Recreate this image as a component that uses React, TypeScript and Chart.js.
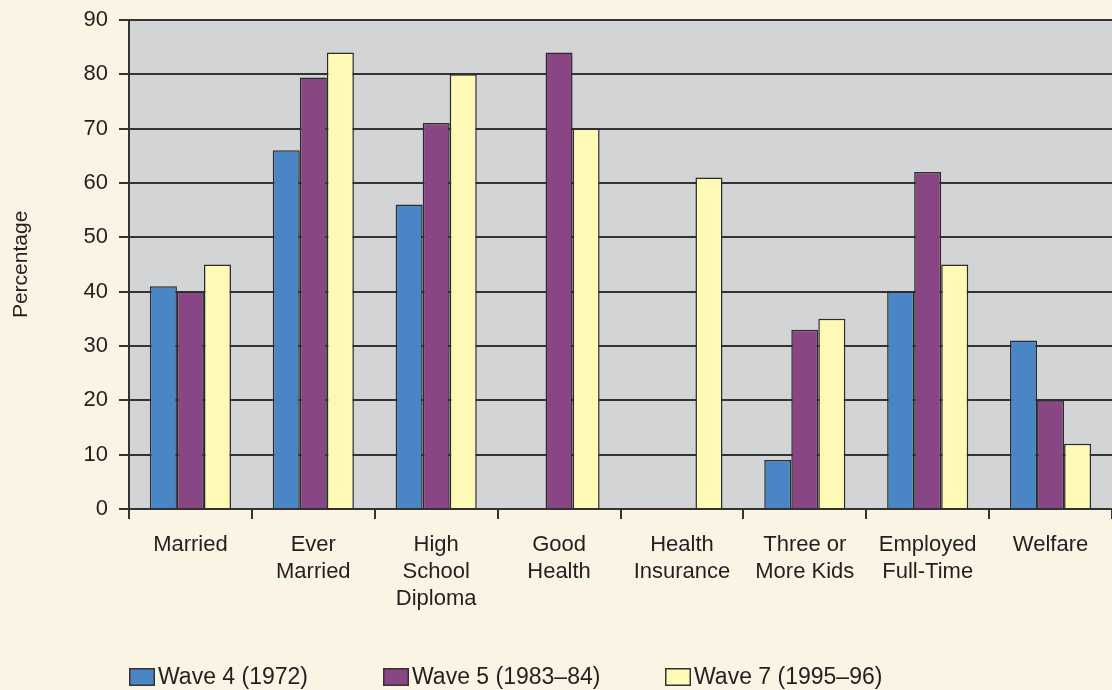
import React, { useEffect, useRef } from "react";
import { Chart, registerables } from "chart.js";

Chart.register(...registerables);

const categories: string[][] = [
  ["Married"],
  ["Ever", "Married"],
  ["High", "School", "Diploma"],
  ["Good", "Health"],
  ["Health", "Insurance"],
  ["Three or", "More Kids"],
  ["Employed", "Full-Time"],
  ["Welfare"],
];

const wave4: (number | null)[] = [41, 66, 56, null, null, 9, 40, 31];
const wave5: (number | null)[] = [40, 79.4, 71, 84, null, 33, 62, 20];
const wave7: (number | null)[] = [45, 84, 80, 70, 61, 35, 45, 12];

const seriesLabels = ["Wave 4 (1972)", "Wave 5 (1983\u201384)", "Wave 7 (1995\u201396)"];
const yTicks = [0, 10, 20, 30, 40, 50, 60, 70, 80, 90];

const COLORS = ["#4A86C5", "#884684", "#FFF9B6"];
const TEXT = "#231F20";
const LINE = "#333333";
const FONT = "'Liberation Sans', Arial, Helvetica, sans-serif";

const bgPlugin = {
  id: "bgPlugin",
  beforeDraw(chart: any) {
    const { ctx, chartArea } = chart;
    ctx.save();
    ctx.fillStyle = "#FBF3E4";
    ctx.fillRect(0, 0, chart.width, chart.height);
    ctx.fillStyle = "#D3D4D6";
    ctx.fillRect(chartArea.left, chartArea.top, chartArea.right - chartArea.left, chartArea.bottom - chartArea.top);
    ctx.restore();
  },
};

const legendPlugin = {
  id: "customLegend",
  afterDraw(chart: any) {
    const { ctx, chartArea } = chart;
    const offsets = [0, 254, 536];
    const y = 668;
    ctx.save();
    ctx.font = `23px ${FONT}`;
    ctx.textBaseline = "middle";
    ctx.textAlign = "left";
    chart.data.datasets.forEach((ds: any, i: number) => {
      const x = chartArea.left + offsets[i];
      ctx.fillStyle = ds.backgroundColor;
      ctx.fillRect(x, y, 26, 18);
      ctx.strokeStyle = LINE;
      ctx.lineWidth = 1.5;
      ctx.strokeRect(x + 0.75, y + 0.75, 24.5, 16.5);
      ctx.fillStyle = TEXT;
      ctx.fillText(ds.label, x + 29, y + 10);
    });
    ctx.restore();
  },
};

export default function App() {
  const ref = useRef<HTMLCanvasElement | null>(null);
  useEffect(() => {
    if (!ref.current) return;
    const mk = (label: string, data: (number | null)[], color: string) => ({
      label,
      data,
      backgroundColor: color,
      borderColor: "#2B2B2B",
      borderWidth: 1.5,
      categoryPercentage: 0.66,
      barPercentage: 1.0,
    });
    const chart = new Chart(ref.current, {
      type: "bar",
      data: {
        labels: categories as any,
        datasets: [
          mk(seriesLabels[0], wave4, COLORS[0]),
          mk(seriesLabels[1], wave5, COLORS[1]),
          mk(seriesLabels[2], wave7, COLORS[2]),
        ],
      },
      options: {
        animation: false,
        responsive: false,
        maintainAspectRatio: false,
        layout: { padding: { top: 19, right: 0, left: 0, bottom: 0 } },
        plugins: {
          legend: { display: false },
          tooltip: { enabled: false },
        },
        scales: {
          x: {
            afterFit(scale: any) {
              scale.height = 181;
            },
            grid: {
              offset: true,
              drawOnChartArea: false,
              drawTicks: true,
              tickLength: 10,
              color: LINE,
              lineWidth: 2,
            },
            border: { display: true, color: LINE, width: 2 },
            ticks: {
              color: TEXT,
              font: { family: FONT, size: 22, lineHeight: 1.23 },
              padding: 12,
              maxRotation: 0,
              autoSkip: false,
            },
          },
          y: {
            min: 0,
            max: 90,
            afterFit(scale: any) {
              scale.width = 129;
            },
            afterBuildTicks(scale: any) {
              scale.ticks = yTicks.map((v) => ({ value: v }));
            },
            grid: {
              color: LINE,
              lineWidth: 2,
              tickLength: 10,
              drawTicks: true,
            },
            border: { display: true, color: LINE, width: 2 },
            ticks: {
              color: TEXT,
              font: { family: FONT, size: 22, lineHeight: 0.8 },
              padding: 11,
            },
            title: {
              display: true,
              text: "Percentage",
              color: TEXT,
              font: { family: FONT, size: 21 },
              padding: { top: 9, bottom: 0 },
            },
          },
        },
      },
      plugins: [bgPlugin, legendPlugin],
    });
    return () => chart.destroy();
  }, []);
  return (
    <div style={{ position: "fixed", left: 0, top: 0, width: 1112, height: 690, background: "#FBF3E4" }}>
      <canvas ref={ref} width={1112} height={690} style={{ display: "block" }} />
    </div>
  );
}
